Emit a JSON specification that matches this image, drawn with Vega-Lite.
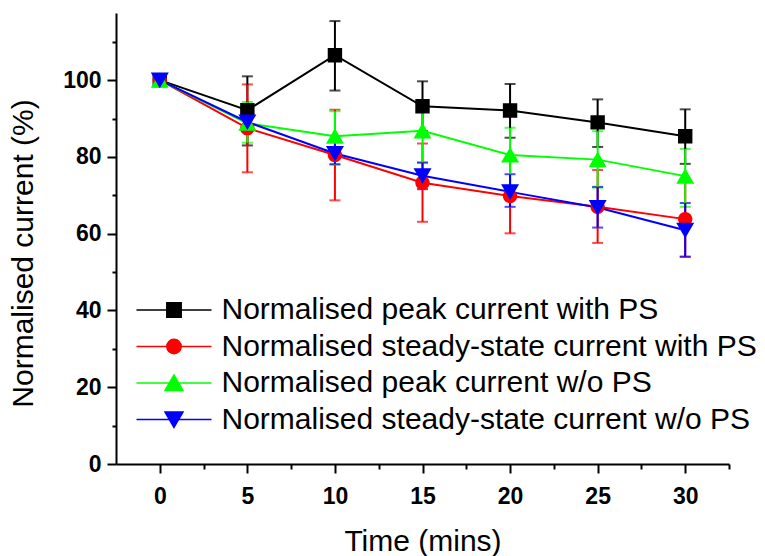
{
  "$schema": "https://vega.github.io/schema/vega-lite/v6.json",
  "width": 613,
  "height": 451,
  "autosize": {"type": "none"},
  "padding": {"left": 116, "top": 13, "right": 36, "bottom": 92},
  "background": "white",
  "config": {
    "view": {"stroke": null},
    "font": "Liberation Sans",
    "legend": {
      "title": null,
      "orient": "none",
      "legendX": 43,
      "legendY": 282,
      "symbolSize": 400,
      "symbolStrokeWidth": 1.5,
      "symbolOpacity": 1,
      "labelFont": "Liberation Sans",
      "labelFontSize": 30,
      "labelColor": "black",
      "labelOffset": 32.5,
      "labelLimit": 700,
      "rowPadding": 6.5,
      "padding": 0
    }
  },
  "data": {
    "values": [
      {"series": "Normalised peak current with PS", "t": 0, "v": 100, "lo": null, "hi": null},
      {"series": "Normalised peak current with PS", "t": 5, "v": 92.2, "lo": 83, "hi": 101},
      {"series": "Normalised peak current with PS", "t": 10, "v": 106.5, "lo": 97.3, "hi": 115.4},
      {"series": "Normalised peak current with PS", "t": 15, "v": 93.2, "lo": 86.7, "hi": 99.7},
      {"series": "Normalised peak current with PS", "t": 20, "v": 92.1, "lo": 85, "hi": 99},
      {"series": "Normalised peak current with PS", "t": 25, "v": 89, "lo": 82.6, "hi": 95},
      {"series": "Normalised peak current with PS", "t": 30, "v": 85.4, "lo": 78.2, "hi": 92.4},
      {"series": "Normalised steady-state current with PS", "t": 0, "v": 100, "lo": null, "hi": null},
      {"series": "Normalised steady-state current with PS", "t": 5, "v": 87.5, "lo": 76, "hi": 98.9},
      {"series": "Normalised steady-state current with PS", "t": 10, "v": 80.5, "lo": 68.7, "hi": 92.3},
      {"series": "Normalised steady-state current with PS", "t": 15, "v": 73.3, "lo": 63.1, "hi": 83.5},
      {"series": "Normalised steady-state current with PS", "t": 20, "v": 69.8, "lo": 60.1, "hi": 79.3},
      {"series": "Normalised steady-state current with PS", "t": 25, "v": 67, "lo": 57.6, "hi": 76.6},
      {"series": "Normalised steady-state current with PS", "t": 30, "v": 63.8, "lo": 54, "hi": 73.5},
      {"series": "Normalised peak current w/o PS", "t": 0, "v": 100, "lo": null, "hi": null},
      {"series": "Normalised peak current w/o PS", "t": 5, "v": 88.8, "lo": 83.7, "hi": 94.3},
      {"series": "Normalised peak current w/o PS", "t": 10, "v": 85.4, "lo": 78, "hi": 91.9},
      {"series": "Normalised peak current w/o PS", "t": 15, "v": 86.8, "lo": 78.6, "hi": 93.2},
      {"series": "Normalised peak current w/o PS", "t": 20, "v": 80.5, "lo": 72.5, "hi": 87.6},
      {"series": "Normalised peak current w/o PS", "t": 25, "v": 79.3, "lo": 72, "hi": 86.7},
      {"series": "Normalised peak current w/o PS", "t": 30, "v": 75, "lo": 67, "hi": 82.1},
      {"series": "Normalised steady-state current w/o PS", "t": 0, "v": 100, "lo": null, "hi": null},
      {"series": "Normalised steady-state current w/o PS", "t": 5, "v": 89.1, "lo": 86.8, "hi": 91.7},
      {"series": "Normalised steady-state current w/o PS", "t": 10, "v": 80.9, "lo": 78.1, "hi": 84.5},
      {"series": "Normalised steady-state current w/o PS", "t": 15, "v": 75.1, "lo": 71.6, "hi": 78.5},
      {"series": "Normalised steady-state current w/o PS", "t": 20, "v": 70.9, "lo": 67, "hi": 75.5},
      {"series": "Normalised steady-state current w/o PS", "t": 25, "v": 66.8, "lo": 61.6, "hi": 72.2},
      {"series": "Normalised steady-state current w/o PS", "t": 30, "v": 60.9, "lo": 54, "hi": 68}
    ]
  },
  "encoding": {
    "x": {
      "field": "t",
      "type": "quantitative",
      "scale": {"domain": [-2.5, 32.5], "nice": false, "zero": false},
      "axis": {
        "title": "Time (mins)",
        "values": [0, 2.5, 5, 7.5, 10, 12.5, 15, 17.5, 20, 22.5, 25, 27.5, 30, 32.5],
        "labelExpr": "datum.value % 5 === 0 ? datum.label : ''",
        "tickSize": {"condition": {"test": "datum.value % 5 === 0", "value": 9}, "value": 5},
        "tickWidth": 2,
        "tickColor": "black",
        "domainColor": "black",
        "domainWidth": 2,
        "grid": false,
        "labelFont": "Liberation Sans",
        "labelFontWeight": "bold",
        "labelFontSize": 23,
        "labelColor": "black",
        "labelBaseline": "alphabetic",
        "labelPadding": 30,
        "labelFlush": false,
        "labelOverlap": false,
        "titleFont": "Liberation Sans",
        "titleFontWeight": "normal",
        "titleFontSize": 30,
        "titleColor": "black",
        "titleBaseline": "alphabetic",
        "titleY": 86
      }
    },
    "color": {
      "field": "series",
      "type": "nominal",
      "scale": {
        "domain": ["Normalised peak current with PS", "Normalised steady-state current with PS", "Normalised peak current w/o PS", "Normalised steady-state current w/o PS"],
        "range": ["#000000", "#ff0000", "#00ff00", "#0000ff"]
      }
    }
  },
  "layer": [
    {
      "transform": [{"filter": "datum.lo != null"}],
      "mark": {"type": "errorbar", "ticks": {"size": 11, "thickness": 2}, "rule": {"strokeWidth": 2}},
      "encoding": {
        "y": {"field": "lo", "type": "quantitative", "title": "Normalised current (%)"},
        "y2": {"field": "hi"}
      }
    },
    {
      "mark": {"type": "line", "strokeWidth": 2},
      "encoding": {
        "y": {"field": "v", "type": "quantitative"},
        "order": {"field": "t"}
      }
    },
    {
      "mark": {"type": "point", "filled": true, "opacity": 1, "size": 400},
      "encoding": {
        "y": {
          "field": "v",
          "type": "quantitative",
          "scale": {"domain": [0, 117.5], "nice": false, "zero": true},
          "axis": {
            "title": "Normalised current (%)",
            "values": [0, 10, 20, 30, 40, 50, 60, 70, 80, 90, 100, 110],
            "labelExpr": "datum.value % 20 === 0 ? datum.label : ''",
            "tickSize": {"condition": {"test": "datum.value % 20 === 0", "value": 9}, "value": 4},
            "tickWidth": 2,
            "tickColor": "black",
            "domainColor": "black",
            "domainWidth": 2,
            "grid": false,
            "labelFont": "Liberation Sans",
            "labelFontWeight": "bold",
            "labelFontSize": 23,
            "labelColor": "black",
            "labelPadding": 6,
            "labelOverlap": false,
            "labelFlush": false,
            "titleFont": "Liberation Sans",
            "titleFontWeight": "normal",
            "titleFontSize": 30,
            "titleColor": "black",
            "titleAngle": -90,
            "titleBaseline": "alphabetic",
            "titleAlign": "center",
            "titleX": -84,
            "titleY": 240
          }
        },
        "stroke": {
          "field": "series",
          "type": "nominal",
          "scale": {
            "domain": ["Normalised peak current with PS", "Normalised steady-state current with PS", "Normalised peak current w/o PS", "Normalised steady-state current w/o PS"],
            "range": ["#000000", "#ff0000", "#00ff00", "#0000ff"]
          }
        },
        "strokeWidth": {"value": 0},
        "shape": {
          "field": "series",
          "type": "nominal",
          "scale": {
            "domain": ["Normalised peak current with PS", "Normalised steady-state current with PS", "Normalised peak current w/o PS", "Normalised steady-state current w/o PS"],
            "range": [
              "M-3.75,0H3.75M-0.72,-0.72H0.72V0.72H-0.72Z",
              "M-3.75,0H3.75M0.72,0A0.72,0.72 0 1,1 -0.72,0A0.72,0.72 0 1,1 0.72,0Z",
              "M-3.75,0H3.75M0,-0.8L0.9,0.76H-0.9Z",
              "M-3.75,0H3.75M0,0.8L0.9,-0.76H-0.9Z"
            ]
          }
        }
      }
    }
  ]
}
